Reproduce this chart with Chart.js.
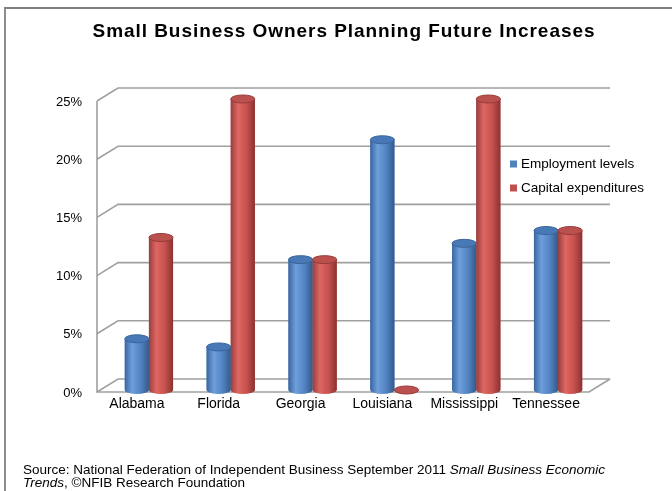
<!DOCTYPE html>
<html>
<head>
<meta charset="utf-8">
<script src="https://cdn.jsdelivr.net/npm/chart.js@4/dist/chart.umd.min.js"></script>
<style>
    html, body {
        margin: 0;
        padding: 0;
        background: #fff;
    }
    #wrap {
        position: relative;
        width: 672px;
        height: 491px;
        overflow: hidden;
    }
    #frame {
        position: absolute;
        left: 4px;
        top: 7px;
        width: 700px;
        height: 500px;
        border-top: 2px solid #7f7f7f;
        border-left: 2px solid #8c8c8c;
    }
    #title {
        position: absolute;
        left: 44px;
        width: 600px;
        top: 19px;
        text-align: center;
        font-family: "Liberation Sans", Arial, sans-serif;
        font-weight: bold;
        font-size: 19px;
        letter-spacing: 0.95px;
        line-height: 24px;
        color: #000;
        white-space: nowrap;
    }
    #source {
        position: absolute;
        left: 23px;
        top: 463px;
        font-family: "Liberation Sans", Arial, sans-serif;
        font-size: 13.5px;
        line-height: 13px;
        color: #000;
        white-space: nowrap;
    }
</style>
</head>
<body>
<div id="wrap">
    <div id="frame"></div>
    <canvas id="owners" width="672" height="491"></canvas>
    <div id="title">Small Business Owners Planning Future Increases</div>
    <div id="source">Source: National Federation of Independent Business September 2011 <i>Small Business Economic</i><br><i>Trends</i>, &copy;NFIB Research Foundation</div>
</div>

<script>
// percent of owners planning increases, by state
var states = ["Alabama", "Florida", "Georgia", "Louisiana", "Mississippi", "Tennessee"];
var employment = [4.4, 3.7, 11.2, 21.5, 12.6, 13.7];
var capital = [13.1, 25, 11.2, 0, 25, 13.7];
var seriesNames = ["Employment levels", "Capital expenditures"];
var yMax = 25;
var yStep = 5;

var blue = "#4F81BD";
var red = "#C0504D";

// shading for the cylinders: edge, highlight, body, edge, cap, cap outline
var shades = {};
shades[blue] = ["#3a66a0", "#6e9edb", "#5385c4", "#335a8a", "#4879b6", "#3a659c"];
shades[red] = ["#963f3d", "#de6663", "#c8524f", "#8a3331", "#bb514e", "#963b39"];

var DX = 21;   // depth of the back wall
var DY = 13;

// walls and floor drawn behind the bars
var depthFrame = {
    id: 'depthFrame',
    beforeDatasetsDraw: function (chart) {
        var ctx = chart.ctx;
        var area = chart.chartArea;
        var y = chart.scales.y;
        var frontLeft = area.left - 11;
        var backLeft = frontLeft + DX;
        var backRight = area.right + 11;

        ctx.save();
        ctx.strokeStyle = "#a0a0a0";
        ctx.lineWidth = 1.6;
        for (var v = 0; v <= yMax; v += yStep) {
            var yf = y.getPixelForValue(v) + 2;
            var yb = yf - DY;
            ctx.beginPath();
            ctx.moveTo(frontLeft, yf);
            ctx.lineTo(backLeft, yb);
            ctx.lineTo(backRight, yb);
            ctx.stroke();
        }
        // left wall edge
        ctx.beginPath();
        ctx.moveTo(frontLeft, y.getPixelForValue(yMax) + 2);
        ctx.lineTo(frontLeft, y.getPixelForValue(0) + 2);
        // floor front edge
        ctx.lineTo(backRight - DX, y.getPixelForValue(0) + 2);
        ctx.lineTo(backRight, y.getPixelForValue(0) + 2 - DY);
        ctx.stroke();
        ctx.restore();
    }
};

// round the flat bars into cylinders
var cylinders = {
    id: 'cylinders',
    afterDatasetsDraw: function (chart) {
        var ctx = chart.ctx;
        chart.data.datasets.forEach(function (ds, i) {
            var s = shades[ds.backgroundColor];
            chart.getDatasetMeta(i).data.forEach(function (bar) {
                var w = bar.width;
                var x0 = bar.x - w / 2;
                var x1 = bar.x + w / 2;
                var ry = 4;

                var grad = ctx.createLinearGradient(x0, 0, x1, 0);
                grad.addColorStop(0, s[0]);
                grad.addColorStop(0.3, s[1]);
                grad.addColorStop(0.65, s[2]);
                grad.addColorStop(1, s[3]);

                ctx.save();
                ctx.fillStyle = grad;
                ctx.beginPath();
                ctx.moveTo(x0, bar.y);
                ctx.lineTo(x0, bar.base);
                ctx.ellipse(bar.x, bar.base, w / 2, ry, 0, Math.PI, 0, true);
                ctx.lineTo(x1, bar.y);
                ctx.closePath();
                ctx.fill();

                ctx.beginPath();
                ctx.ellipse(bar.x, bar.y, w / 2, ry, 0, 0, Math.PI * 2);
                ctx.fillStyle = s[4];
                ctx.fill();
                ctx.lineWidth = 1;
                ctx.strokeStyle = s[5];
                ctx.stroke();
                ctx.restore();
            });
        });
    }
};

// legend sitting inside the plot, right side
var insideLegend = {
    id: 'insideLegend',
    afterDraw: function (chart) {
        var ctx = chart.ctx;
        var area = chart.chartArea;
        var x = area.right - 89;
        var y = area.top + 65;
        ctx.save();
        ctx.font = "13.5px 'Liberation Sans', Arial, sans-serif";
        ctx.textBaseline = "middle";
        chart.data.datasets.forEach(function (ds, i) {
            var cy = y + i * 24;
            ctx.fillStyle = ds.backgroundColor;
            ctx.fillRect(x, cy - 3.5, 7, 7);
            ctx.fillStyle = "#000";
            ctx.fillText(ds.label, x + 11, cy);
        });
        ctx.restore();
    }
};

function build_graph_owners() {

    var ctx = document.getElementById("owners");

    var data = {
        labels: states,
        datasets: [
            {
                label: seriesNames[0],
                data: employment,
                backgroundColor: blue,
                borderWidth: 0
            },
            {
                label: seriesNames[1],
                data: capital,
                backgroundColor: red,
                borderWidth: 0
            }
        ]
    };

    var option = {
        responsive: false,
        animation: false,
        layout: {
            padding: {left: 0, right: 73, top: 99, bottom: 71}
        },
        plugins: {
            legend: {display: false},
            tooltip: {enabled: false},
            title: {display: false}
        },
        datasets: {
            bar: {
                categoryPercentage: 0.59,
                barPercentage: 1
            }
        },
        scales: {
            x: {
                grid: {display: false, drawTicks: false},
                border: {display: false},
                ticks: {
                    color: "#000",
                    padding: 6,
                    labelOffset: -12,
                    font: {family: "'Liberation Sans', Arial, sans-serif", size: 14}
                },
                afterFit: function (scale) {
                    scale.height = 30;
                }
            },
            y: {
                min: 0,
                max: yMax,
                grid: {display: false, drawTicks: false},
                border: {display: false},
                ticks: {
                    stepSize: yStep,
                    color: "#000",
                    padding: 26,
                    labelOffset: 3,
                    font: {family: "'Liberation Sans', Arial, sans-serif", size: 13},
                    callback: function (v) {
                        return v + "%";
                    }
                },
                afterFit: function (scale) {
                    scale.width = 108;
                }
            }
        }
    };

    new Chart(ctx, {
        type: 'bar',
        data: data,
        options: option,
        plugins: [depthFrame, cylinders, insideLegend]
    });
}

build_graph_owners();
</script>
</body>
</html>
